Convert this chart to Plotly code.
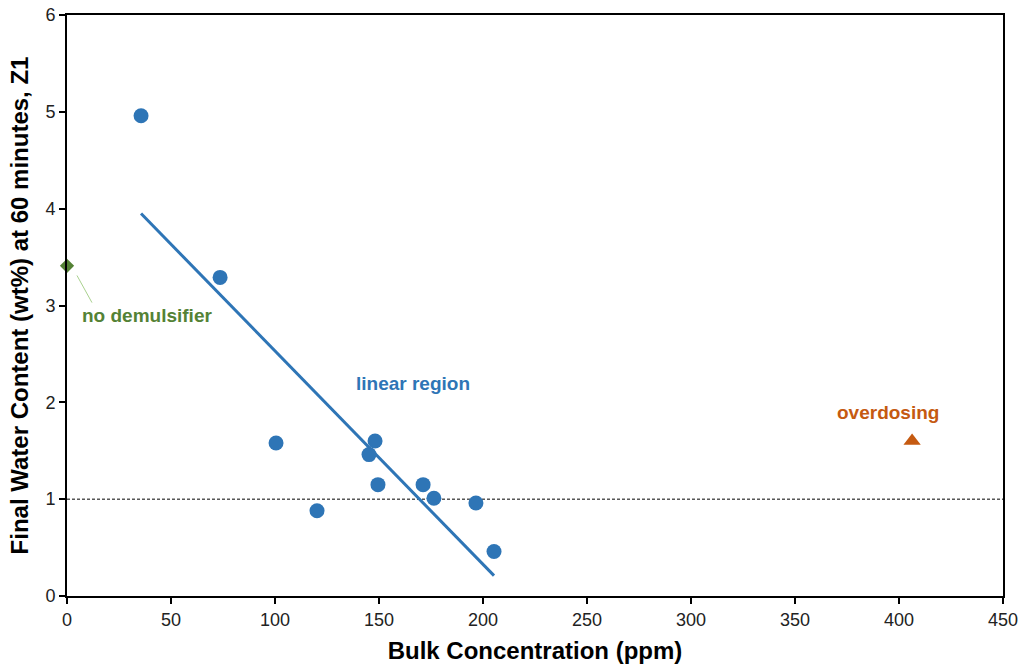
import plotly.graph_objects as go

# Data
conc = [35.6, 73.6, 100.5, 120.2, 145.2, 148.1, 149.5, 171.2, 176.4, 196.6, 205.3]
water = [4.96, 3.29, 1.58, 0.88, 1.46, 1.60, 1.15, 1.15, 1.01, 0.96, 0.46]
trend_x = [35.6, 205.3]
trend_y = [3.95, 0.21]
nodem_x = [0]
nodem_y = [3.41]
over_x = [406.3]
over_y = [1.60]
ref_x = [0, 450]
ref_y = [1, 1]

BLUE = "#2E75B6"
GREEN = "#548235"
ORANGE = "#C55A11"

fig = go.Figure()
fig.add_trace(go.Scatter(x=ref_x, y=ref_y, mode="lines",
                         line=dict(color="black", width=1, dash="3px,2px"), hoverinfo="skip"))
fig.add_trace(go.Scatter(x=trend_x, y=trend_y, mode="lines",
                         line=dict(color=BLUE, width=3)))
fig.add_trace(go.Scatter(x=conc, y=water, mode="markers",
                         marker=dict(color=BLUE, size=15, symbol="circle")))
fig.add_trace(go.Scatter(x=nodem_x, y=nodem_y, mode="markers", cliponaxis=False,
                         marker=dict(color=GREEN, size=11, symbol="diamond")))
fig.add_trace(go.Scatter(x=over_x, y=over_y, mode="markers",
                         marker=dict(color=ORANGE, size=15, symbol="triangle-up")))

# leader line for "no demulsifier"
fig.add_shape(type="line", xref="x", yref="y", x0=4.8, y0=3.31, x1=12, y1=3.03,
              line=dict(color="#A9D18E", width=1))
fig.add_annotation(x=6.2, y=2.9, xref="x", yref="y", text="<b>no demulsifier</b>",
                   showarrow=False, xanchor="left", yanchor="middle",
                   font=dict(color=GREEN, size=19))
fig.add_annotation(x=166.3, y=2.19, xref="x", yref="y", text="<b>linear region</b>",
                   showarrow=False, xanchor="center", yanchor="middle",
                   font=dict(color=BLUE, size=19))
fig.add_annotation(x=394.7, y=1.89, xref="x", yref="y", text="<b>overdosing</b>",
                   showarrow=False, xanchor="center", yanchor="middle",
                   font=dict(color=ORANGE, size=19))

axis_common = dict(showline=True, linecolor="black", linewidth=2, mirror=True,
                   ticks="outside", ticklen=6, tickwidth=1.5, tickcolor="black",
                   showgrid=False, zeroline=False, automargin=False,
                   tickfont=dict(size=18, color="#222222"))

fig.update_xaxes(range=[0, 450], dtick=50, tick0=0,
                 title=dict(text="<b>Bulk Concentration (ppm)</b>", font=dict(size=24, color="black"),
                            standoff=14),
                 **axis_common)
fig.update_yaxes(range=[0, 6], dtick=1, tick0=0,
                 title=dict(text="<b>Final Water Content (wt%) at 60 minutes, Z1</b>",
                            font=dict(size=24, color="black"), standoff=10),
                 **axis_common)

fig.update_layout(width=1026, height=668, showlegend=False,
                  plot_bgcolor="white", paper_bgcolor="white",
                  font=dict(family="Liberation Sans, Arial, sans-serif"),
                  margin=dict(l=67, r=23, t=15, b=72))

fig.write_html("out.html")
